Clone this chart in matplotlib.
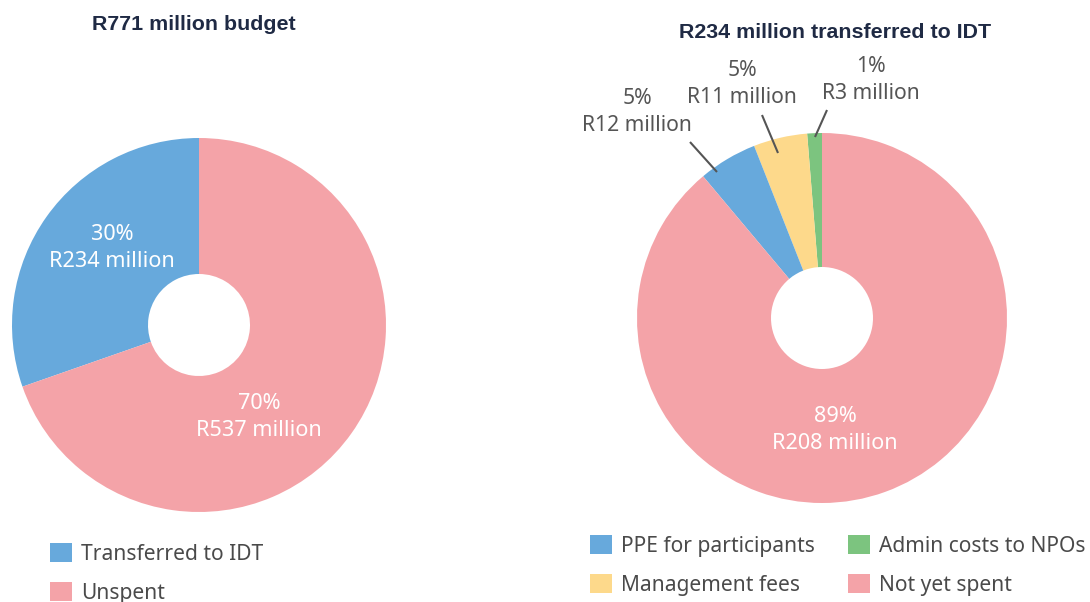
import matplotlib
matplotlib.use("Agg")
import matplotlib.pyplot as plt
import numpy as np

# ---- data ----
left_categories = ["Transferred to IDT", "Unspent"]
left_values = [234, 537]
left_pct = ["30%", "70%"]
left_title = "R771 million budget"

right_categories = ["Admin costs to NPOs", "Management fees", "PPE for participants", "Not yet spent"]
right_values = [3, 11, 12, 208]
right_pct = ["1%", "5%", "5%", "89%"]
right_title = "R234 million transferred to IDT"

left_colors = ["#67a9dc", "#f4a3a8"]
right_colors = ["#7cc47f", "#fdd98b", "#67a9dc", "#f4a3a8"]

FONT = "Noto Sans"
W, H = 1090, 602
fig = plt.figure(figsize=(W / 100, H / 100), dpi=100)
ax = fig.add_axes([0, 0, 1, 1])

def Y(y):
    return H - y

# left donut
lc = (199, Y(325)); lr = 187
lw, _ = ax.pie(left_values, colors=left_colors, startangle=90, counterclock=True,
               center=lc, radius=lr, frame=True,
               wedgeprops=dict(width=lr - 51, linewidth=0))
# right donut
rc = (822, Y(318)); rr = 185
rw, _ = ax.pie(right_values, colors=right_colors, startangle=90, counterclock=True,
               center=rc, radius=rr, frame=True,
               wedgeprops=dict(width=rr - 51, linewidth=0))
ax.set_xlim(0, W)
ax.set_ylim(0, H)
ax.set_aspect("equal")
ax.axis("off")

def money(v):
    return f"R{v} million"

# inside labels
inside_kw = dict(color="white", ha="center", va="center", fontsize=15.6,
                 family=FONT, linespacing=1.4)
ax.text(112, Y(248), f"{left_pct[0]}\n{money(left_values[0])}", **inside_kw)
ax.text(259, Y(417), f"{left_pct[1]}\n{money(left_values[1])}", **inside_kw)
ax.text(835, Y(430), f"{right_pct[3]}\n{money(right_values[3])}", **inside_kw)

# outside labels with leader lines
outside = [
    (0, (871, 80), (827, 110), (815, 137)),
    (1, (742, 84), (762, 115), (778, 153)),
    (2, (637, 112), (690, 142), (717, 172)),
]
for i, (tx, ty), (x1, y1), (x2, y2) in outside:
    ax.text(tx, Y(ty), f"{right_pct[i]}\n{money(right_values[i])}", color="#555555",
            ha="center", va="center", fontsize=15.2, family=FONT, linespacing=1.38)
    ax.plot([x1, x2], [Y(y1), Y(y2)], color="#555555", lw=1.5, solid_capstyle="butt")

# titles
ax.text(194, Y(24), left_title, ha="center", va="center", fontsize=15.4,
        fontweight="bold", family="Liberation Sans", color="#1f2a44")
ax.text(835, Y(32), right_title, ha="center", va="center", fontsize=15.4,
        fontweight="bold", family="Liberation Sans", color="#1f2a44")

# legends
leg_kw = dict(frameon=False, prop=dict(family=FONT, size=15.1), handlelength=1.05,
              handleheight=1.05, handletextpad=0.45, labelcolor="#4a4a4a",
              borderaxespad=0, borderpad=0)
leg1 = fig.legend(lw, left_categories, loc="upper left",
                  bbox_to_anchor=(50 / W, 1 - 543 / H), labelspacing=0.8, **leg_kw)
order = [2, 1, 0, 3]
leg2 = fig.legend([rw[i] for i in order], [right_categories[i] for i in order],
                  loc="upper left", ncol=2, bbox_to_anchor=(590 / W, 1 - 535 / H),
                  labelspacing=0.8, columnspacing=1.55, **leg_kw)

fig.savefig("out.png", dpi=100)
